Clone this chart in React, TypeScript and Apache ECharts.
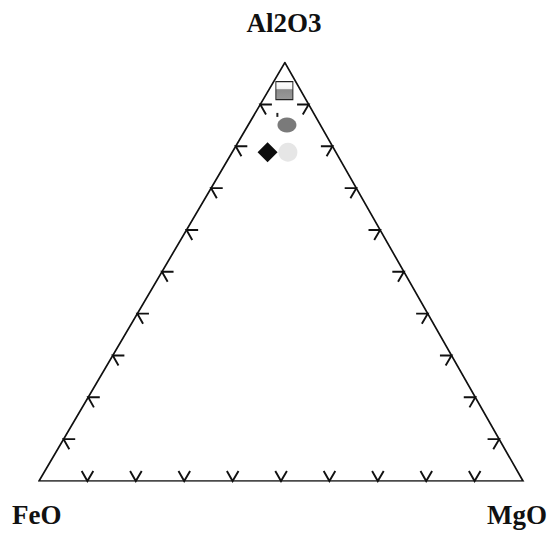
import { useEffect, useRef } from "react";
import * as echarts from "echarts";

// Ternary diagram: Al2O3 (top), FeO (bottom left), MgO (bottom right)
const cornerLabels = ["Al2O3", "FeO", "MgO"];
const tickPercents = [10, 20, 30, 40, 50, 60, 70, 80, 90];

// Sample compositions, percent of Al2O3 + FeO + MgO
const al2o3 = [93.3, 87.5, 85.1, 78.6, 78.6];
const feo = [3.4, 7.7, 6.9, 14.1, 9.9];
const mgo = [3.3, 4.8, 8.0, 7.3, 11.5];

// Horizontal position of the Al2O3 corner on the unit base
const APEX_X = 0.508;
// Length of each tick arm, in percent along the edge
const TICK = 2.4;

function toXY(al: number, fe: number, mg: number): number[] {
  const s = al + fe + mg;
  return [(mg + al * APEX_X) / s, al / s];
}

function tickRows(): number[][] {
  const rows: number[][] = [];
  const T = TICK;
  for (const p of tickPercents) {
    // bottom edge (FeO - MgO)
    rows.push([
      ...toXY(T, 100 - p, p - T),
      ...toXY(0, 100 - p, p),
      ...toXY(T, 100 - p - T, p),
    ]);
    // left edge (FeO - Al2O3)
    rows.push([
      ...toXY(p, 100 - p - T, T),
      ...toXY(p, 100 - p, 0),
      ...toXY(p - T, 100 - p, T),
    ]);
    // right edge (MgO - Al2O3)
    rows.push([
      ...toXY(p, T, 100 - p - T),
      ...toXY(p, 0, 100 - p),
      ...toXY(p - T, T, 100 - p),
    ]);
  }
  return rows;
}

const sampleStyles = [
  {
    symbol: "rect",
    symbolSize: [17, 18],
    itemStyle: {
      color: new echarts.graphic.LinearGradient(0, 0, 0, 1, [
        { offset: 0, color: "#ffffff" },
        { offset: 0.38, color: "#f4f4f4" },
        { offset: 0.45, color: "#8c8c8c" },
        { offset: 1, color: "#999999" },
      ]),
      borderColor: "#222",
      borderWidth: 1,
      opacity: 1,
    },
  },
  { symbol: "rect", symbolSize: [2, 4], itemStyle: { color: "#222", opacity: 1 } },
  { symbol: "circle", symbolSize: [19, 15], itemStyle: { color: "#7a7a7a", opacity: 1 } },
  { symbol: "diamond", symbolSize: [20, 20], itemStyle: { color: "#0d0d0d", opacity: 1 } },
  { symbol: "circle", symbolSize: [19, 19], itemStyle: { color: "#e6e6e6", opacity: 1 } },
];

export default function App() {
  const ref = useRef<HTMLDivElement>(null);

  useEffect(() => {
    if (!ref.current) return;
    const chart = echarts.init(ref.current, null, { renderer: "svg" });

    const top = toXY(100, 0, 0);
    const left = toXY(0, 100, 0);
    const right = toXY(0, 0, 100);

    const labelFont = {
      fontFamily: "Liberation Serif",
      fontWeight: "bold" as const,
      fontSize: 27,
      fill: "#111",
    };

    chart.setOption({
      animation: false,
      backgroundColor: "#fff",
      grid: { left: 39, right: 26, top: 62.6, bottom: 59 },
      xAxis: { type: "value", min: 0, max: 1, show: false },
      yAxis: { type: "value", min: 0, max: 1, show: false },
      graphic: [
        {
          type: "text",
          x: 284,
          y: 23,
          style: { ...labelFont, text: cornerLabels[0], align: "center", verticalAlign: "middle" },
        },
        {
          type: "text",
          x: 12,
          y: 515,
          style: { ...labelFont, text: cornerLabels[1], align: "left", verticalAlign: "middle" },
        },
        {
          type: "text",
          x: 547,
          y: 515,
          style: { ...labelFont, text: cornerLabels[2], align: "right", verticalAlign: "middle" },
        },
      ],
      series: [
        {
          type: "line",
          data: [left, right, top, left, right],
          symbol: "none",
          silent: true,
          lineStyle: { color: "#111", width: 1.7, join: "miter" },
        },
        {
          type: "custom",
          data: tickRows(),
          encode: { x: [0, 2, 4], y: [1, 3, 5] },
          clip: false,
          silent: true,
          renderItem: (_params: any, api: any) => {
            const a = api.coord([api.value(0), api.value(1)]);
            const b = api.coord([api.value(2), api.value(3)]);
            const c = api.coord([api.value(4), api.value(5)]);
            return {
              type: "polyline",
              shape: { points: [a, b, c] },
              style: { stroke: "#111", lineWidth: 1.9, fill: null },
            };
          },
        },
        {
          type: "scatter",
          silent: true,
          data: al2o3.map((al, i) => ({
            value: toXY(al, feo[i], mgo[i]),
            ...sampleStyles[i],
          })),
        },
      ],
    });

    return () => chart.dispose();
  }, []);

  return (
    <div
      ref={ref}
      style={{ position: "fixed", left: 0, top: 0, width: 549, height: 540 }}
    />
  );
}
